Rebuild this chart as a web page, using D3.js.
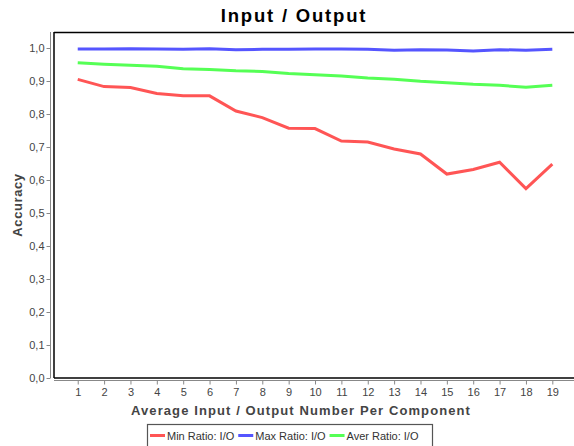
<!DOCTYPE html>
<html><head><meta charset="utf-8">
<script src="https://cdn.jsdelivr.net/npm/d3@7"></script>
<style>body{margin:0;background:#fff;overflow:hidden}svg{display:block;font-family:"Liberation Sans",Arial,sans-serif}</style>
</head><body>
<svg id="c" width="574" height="446"></svg>
<script>
const categories = [1,2,3,4,5,6,7,8,9,10,11,12,13,14,15,16,17,18,19];
const minRatio = [0.905,0.883,0.880,0.862,0.855,0.855,0.809,0.789,0.757,0.756,0.718,0.715,0.694,0.679,0.618,0.632,0.654,0.574,0.648];
const maxRatio = [0.997,0.997,0.998,0.997,0.996,0.998,0.995,0.996,0.996,0.997,0.997,0.996,0.993,0.995,0.994,0.991,0.995,0.993,0.996];
const averRatio = [0.955,0.951,0.948,0.945,0.937,0.935,0.931,0.929,0.923,0.919,0.915,0.909,0.905,0.899,0.895,0.890,0.887,0.881,0.887];
const yTicks = [0,0.1,0.2,0.3,0.4,0.5,0.6,0.7,0.8,0.9,1.0];
const seriesNames = ["Min Ratio: I/O","Max Ratio: I/O","Aver Ratio: I/O"];
const seriesColors = ["#ff5555","#5555ff","#55ff55"];
const series = [minRatio, maxRatio, averRatio];

const svg = d3.select("#c");
const L=54, T=32, B=378, R=580;
const x = d3.scaleLinear().domain([0.1,20.05]).range([L,R]);
const y = d3.scaleLinear().domain([0,1.0485]).range([B,T]);

// title
svg.append("text").attr("x",294).attr("y",21.5).attr("text-anchor","middle")
  .attr("font-family","'Liberation Sans',Arial,sans-serif").attr("font-weight","bold").attr("font-size",18.5)
  .attr("letter-spacing",1.8).attr("fill","#000").text("Input / Output");

// plot frame
svg.append("line").attr("x1",L).attr("x2",R).attr("y1",T+0.5).attr("y2",T+0.5).attr("stroke","#000").attr("stroke-width",1.5);
svg.append("line").attr("x1",L).attr("x2",R).attr("y1",B).attr("y2",B).attr("stroke","#000").attr("stroke-width",1.5);
svg.append("line").attr("x1",L).attr("x2",L).attr("y1",T).attr("y2",B).attr("stroke","#000").attr("stroke-width",1.5);

// y axis
const yAxis = d3.axisLeft(y).tickValues(yTicks).tickSize(4).tickPadding(2)
  .tickFormat(d=>d3.format(".1f")(d).replace(".",","));
const gy = svg.append("g").attr("transform","translate(50.5,0)").call(yAxis);
gy.select(".domain").attr("stroke","#888").attr("d",`M0,${T}V${B}`);
gy.selectAll(".tick line").attr("stroke","#888");
gy.selectAll("text").attr("fill","#444").attr("font-size",11).attr("font-family","'Liberation Sans',Arial,sans-serif");

// x axis
const xAxis = d3.axisBottom(x).tickValues(categories).tickSize(4).tickPadding(4).tickFormat(d3.format("d"));
const gx = svg.append("g").attr("transform","translate(0,380.5)").call(xAxis);
gx.select(".domain").attr("stroke","#888").attr("d",`M${L},0H${R}`);
gx.selectAll(".tick line").attr("stroke","#888");
gx.selectAll("text").attr("fill","#444").attr("font-size",11).attr("font-family","'Liberation Sans',Arial,sans-serif");

// axis titles
svg.append("text").attr("x",301).attr("y",414.5).attr("text-anchor","middle")
  .attr("font-weight","bold").attr("font-size",13).attr("fill","#444").attr("letter-spacing",1.1)
  .text("Average Input / Output Number Per Component");
svg.append("text").attr("transform","translate(22,205) rotate(-90)").attr("text-anchor","middle")
  .attr("font-weight","bold").attr("font-size",13).attr("fill","#444").attr("letter-spacing",0.6)
  .text("Accuracy");

// lines
const line = d3.line().x((d,i)=>x(categories[i])).y(d=>y(d));
series.forEach((s,k)=>{
  svg.append("path").datum(s).attr("d",line).attr("fill","none")
    .attr("stroke",seriesColors[k]).attr("stroke-width",3).attr("stroke-linejoin","miter");
});

// legend
const lg = svg.append("g");
lg.append("rect").attr("x",147.5).attr("y",424.5).attr("width",285).attr("height",24)
  .attr("fill","#fff").attr("stroke","#555").attr("stroke-width",1.2);
let lx = 150;
seriesNames.forEach((n,k)=>{
  lg.append("line").attr("x1",lx).attr("x2",lx+15).attr("y1",435.5).attr("y2",435.5)
    .attr("stroke",seriesColors[k]).attr("stroke-width",3);
  const t = lg.append("text").attr("x",lx+17).attr("y",439.5).attr("font-size",11).attr("fill","#333").text(n);
  lx += 17 + t.node().getComputedTextLength() + 4;
});
</script>
</body></html>
